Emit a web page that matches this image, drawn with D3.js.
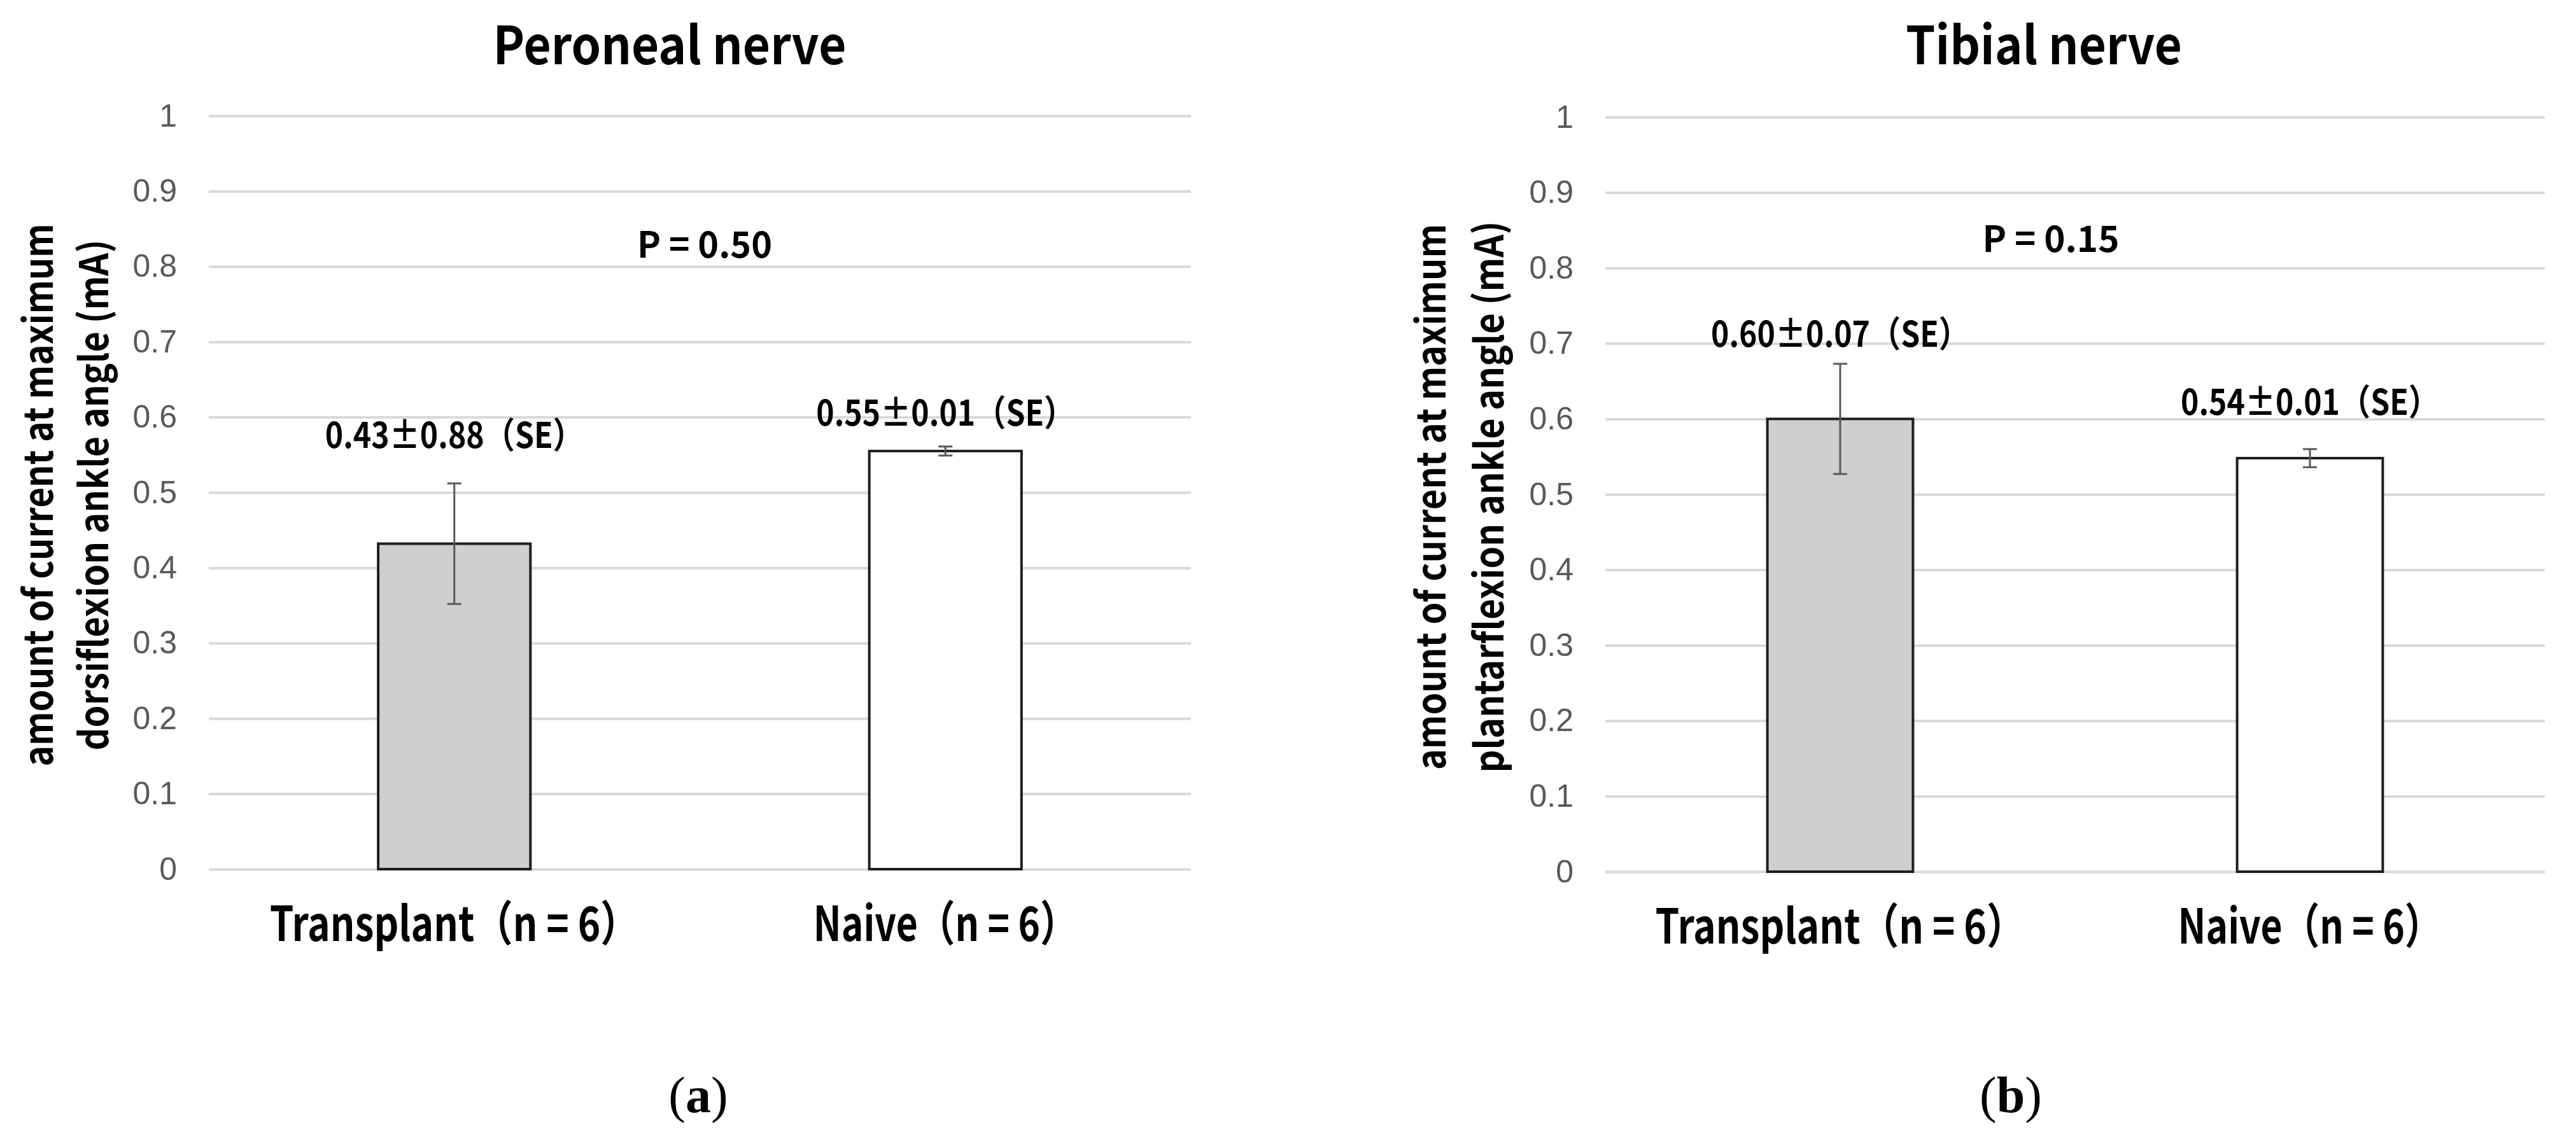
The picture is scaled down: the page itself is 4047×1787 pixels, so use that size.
<!DOCTYPE html>
<html>
<head>
<meta charset="utf-8">
<script src="https://cdn.jsdelivr.net/npm/d3@7"></script>
<style>
  body { margin: 0; background: #fff; }
  svg { display: block; }
</style>
</head>
<body>
<svg id="chart" width="4047" height="1787"></svg>
<script>
const groups = ["Transplant（n = 6）", "Naive（n = 6）"];
const yTicks = [0, 0.1, 0.2, 0.3, 0.4, 0.5, 0.6, 0.7, 0.8, 0.9, 1];

const peronealMeans = [0.432, 0.555];
const peronealSE = [0.080, 0.006];
const peronealLabels = ["0.43±0.88（SE）", "0.55±0.01（SE）"];

const tibialMeans = [0.600, 0.548];
const tibialSE = [0.073, 0.012];
const tibialLabels = ["0.60±0.07（SE）", "0.54±0.01（SE）"];

const titles = ["Peroneal nerve", "Tibial nerve"];
const pValues = ["P = 0.50", "P = 0.15"];
const yTitles = [
  ["amount of current at maximum", "dorsiflexion ankle angle (mA)"],
  ["amount of current at maximum", "plantarflexion ankle angle (mA)"],
];
const panelTags = ["a", "b"];

const BOLD = "'Noto Sans CJK JP', 'Noto Sans', sans-serif";

// layout of each panel (pixels)
const layouts = [
  { x0: 328, x1: 1871, y0: 1366, y1: 182, titleX: 1052, titleW: 555, pX: 1107, pY: 405, pW: 212,
    yTitleX: [83, 170], yTitleW: [853, 803], labelDy: [-56, -33], xLabelW: [580, 415], tagX: 1097 },
  { x0: 2522, x1: 3998, y0: 1370, y1: 184, titleX: 3211, titleW: 434, pX: 3222, pY: 396, pW: 215,
    yTitleX: [2271, 2362], yTitleW: [858, 867], labelDy: [-27, -54], xLabelW: [581, 415], tagX: 3159 },
];

const panels = [
  { means: peronealMeans, se: peronealSE, labels: peronealLabels },
  { means: tibialMeans, se: tibialSE, labels: tibialLabels },
];

const svg = d3.select("#chart");

const drawPanel = (panel, L, i) => {
  const W = L.x1 - L.x0;
  const g = svg.append("g").attr("transform", `translate(${L.x0},0)`);

  const x = d3.scaleBand().domain(groups).range([0, W]).paddingInner(0.69).paddingOuter(0.345);
  const y = d3.scaleLinear().domain([0, 1]).range([L.y0, L.y1]);

  const axis = g.append("g")
    .call(d3.axisLeft(y).tickValues(yTicks).tickFormat(d3.format("~g")).tickSize(-W).tickPadding(50));
  axis.select(".domain").remove();
  axis.selectAll(".tick line").attr("stroke", "#d9d9d9").attr("stroke-width", 4);
  axis.selectAll(".tick text")
    .attr("fill", "#595959")
    .style("font-family", "'Liberation Sans', Arial, sans-serif")
    .style("font-size", "50px");

  const data = groups.map((name, k) => ({ name, mean: panel.means[k], se: panel.se[k], label: panel.labels[k], k }));

  g.selectAll("rect.bar")
    .data(data)
    .enter()
    .append("rect")
    .attr("class", "bar")
    .attr("x", (d) => x(d.name))
    .attr("width", x.bandwidth())
    .attr("y", (d) => y(d.mean))
    .attr("height", (d) => y(0) - y(d.mean))
    .attr("fill", (d) => (d.k === 0 ? "#d0cece" : "#ffffff"))
    .attr("stroke", "#1e1e1e")
    .attr("stroke-width", 4);

  const err = g.selectAll("g.err").data(data).enter().append("g").attr("class", "err")
    .attr("stroke", "#595959").attr("stroke-width", 3);
  const cx = (d) => x(d.name) + x.bandwidth() / 2;
  err.append("line")
    .attr("x1", cx).attr("x2", cx)
    .attr("y1", (d) => y(d.mean + d.se)).attr("y2", (d) => y(d.mean - d.se));
  [1, -1].forEach((s) => {
    err.append("line")
      .attr("x1", (d) => cx(d) - 11).attr("x2", (d) => cx(d) + 11)
      .attr("y1", (d) => y(d.mean + s * d.se)).attr("y2", (d) => y(d.mean + s * d.se));
  });

  // value labels
  g.selectAll("text.val")
    .data(data)
    .enter()
    .append("text")
    .attr("class", "val")
    .attr("x", cx)
    .attr("y", (d) => y(d.mean + d.se) + L.labelDy[d.k])
    .attr("text-anchor", "middle")
    .attr("textLength", 406)
    .attr("lengthAdjust", "spacingAndGlyphs")
    .style("font-family", BOLD)
    .style("font-weight", 700)
    .style("font-size", "56px")
    .text((d) => d.label);

  // category labels
  g.selectAll("text.cat")
    .data(data)
    .enter()
    .append("text")
    .attr("class", "cat")
    .attr("x", cx)
    .attr("y", y(0) + 113)
    .attr("text-anchor", "middle")
    .attr("textLength", (d) => L.xLabelW[d.k])
    .attr("lengthAdjust", "spacingAndGlyphs")
    .style("font-family", BOLD)
    .style("font-weight", 700)
    .style("font-size", "75px")
    .text((d) => d.name);

  // title
  svg.append("text")
    .attr("x", L.titleX).attr("y", 101)
    .attr("text-anchor", "middle")
    .attr("textLength", L.titleW)
    .attr("lengthAdjust", "spacingAndGlyphs")
    .style("font-family", BOLD).style("font-weight", 700).style("font-size", "82px")
    .text(titles[i]);

  // p value
  svg.append("text")
    .attr("x", L.pX).attr("y", L.pY)
    .attr("text-anchor", "middle")
    .attr("textLength", L.pW)
    .attr("lengthAdjust", "spacingAndGlyphs")
    .style("font-family", BOLD).style("font-weight", 700).style("font-size", "57px")
    .text(pValues[i]);

  // y axis title
  yTitles[i].forEach((line, j) => {
    svg.append("text")
      .attr("transform", `translate(${L.yTitleX[j]},${(L.y0 + L.y1) / 2 + 4}) rotate(-90)`)
      .attr("text-anchor", "middle")
      .attr("textLength", L.yTitleW[j])
      .attr("lengthAdjust", "spacingAndGlyphs")
      .style("font-family", BOLD).style("font-weight", 700).style("font-size", "62px")
      .text(line);
  });

  // panel tag
  const tag = svg.append("text")
    .attr("x", L.tagX).attr("y", 1748)
    .attr("text-anchor", "middle")
    .style("font-family", "'Liberation Serif', 'Times New Roman', serif")
    .style("font-size", "80px");
  tag.append("tspan").text("(");
  tag.append("tspan").style("font-weight", 700).text(panelTags[i]);
  tag.append("tspan").text(")");
};

panels.forEach((p, i) => drawPanel(p, layouts[i], i));
</script>
</body>
</html>
